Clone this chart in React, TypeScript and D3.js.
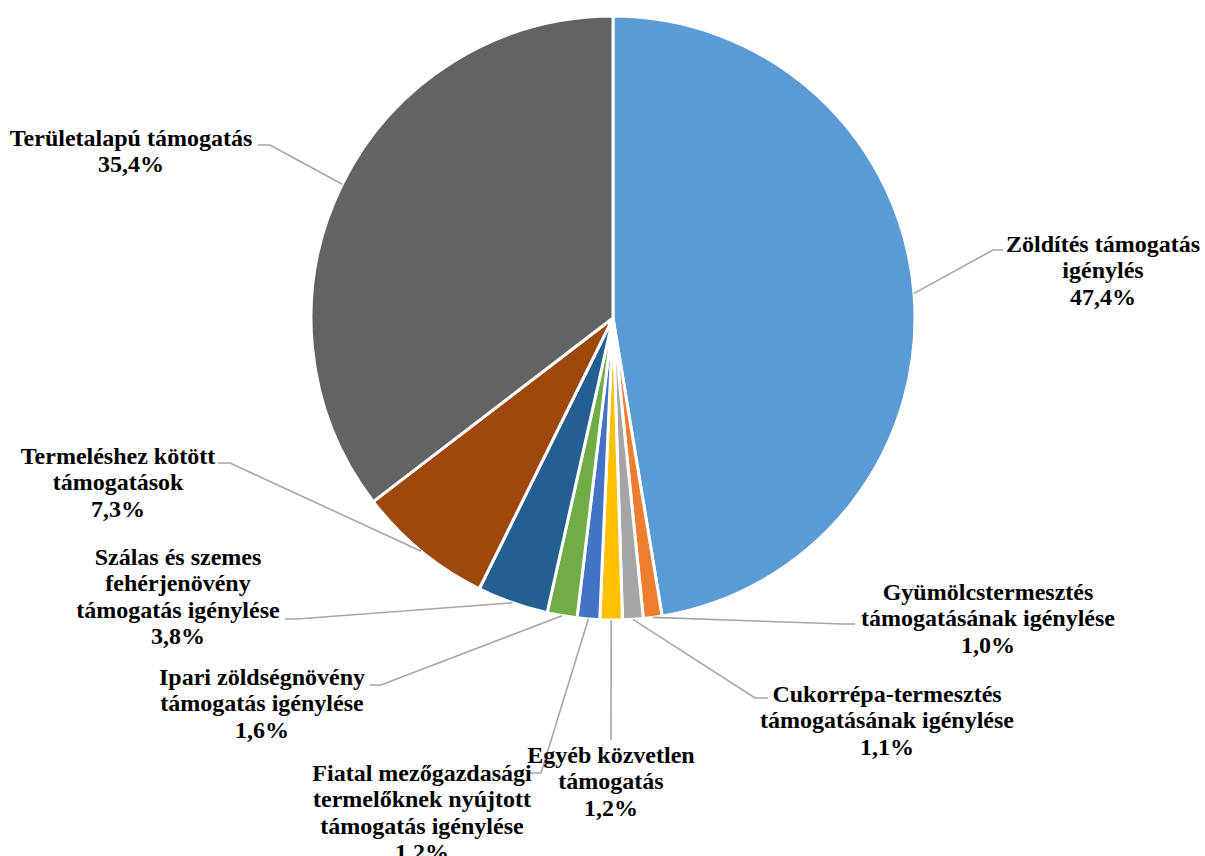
import React from "react";
import * as d3 from "d3";

const categories = [
  "Zöldítés támogatás igénylés",
  "Gyümölcstermesztés támogatásának igénylése",
  "Cukorrépa-termesztés támogatásának igénylése",
  "Egyéb közvetlen támogatás",
  "Fiatal mezőgazdasági termelőknek nyújtott támogatás igénylése",
  "Ipari zöldségnövény támogatás igénylése",
  "Szálas és szemes fehérjenövény támogatás igénylése",
  "Termeléshez kötött támogatások",
  "Területalapú támogatás",
];
const values = [47.4, 1.0, 1.1, 1.2, 1.2, 1.6, 3.8, 7.3, 35.4];
const valueLabels = ["47,4%", "1,0%", "1,1%", "1,2%", "1,2%", "1,6%", "3,8%", "7,3%", "35,4%"];
const labelLines = [
  ["Zöldítés támogatás", "igénylés"],
  ["Gyümölcstermesztés", "támogatásának igénylése"],
  ["Cukorrépa-termesztés", "támogatásának igénylése"],
  ["Egyéb közvetlen", "támogatás"],
  ["Fiatal mezőgazdasági", "termelőknek nyújtott", "támogatás igénylése"],
  ["Ipari zöldségnövény", "támogatás igénylése"],
  ["Szálas és szemes", "fehérjenövény", "támogatás igénylése"],
  ["Termeléshez kötött", "támogatások"],
  ["Területalapú támogatás"],
];
const colors = ["#5B9BD5", "#ED7D31", "#A5A5A5", "#FFC000", "#4472C4", "#70AD47", "#255E91", "#9E480E", "#636363"];

// layout: label text centre x, first line centre y, leader stub (sx -> ex at y)
const layout = [
  { cx: 1103, y0: 244, s: [1003, 993, 250] },
  { cx: 988, y0: 592, s: [855, 843, 624] },
  { cx: 887, y0: 694, s: [768, 755, 698] },
  { cx: 611, y0: 755, s: [611, 611, 740] },
  { cx: 422, y0: 773, s: [530, 541, 773] },
  { cx: 262, y0: 677, s: [370, 381, 685] },
  { cx: 178, y0: 557, s: [285, 297, 619] },
  { cx: 118, y0: 456, s: [218, 230, 463] },
  { cx: 131, y0: 138, s: [258, 270, 145] },
];

const W = 1205, H = 856;
const CX = 613, CY = 318, R = 302;
const LH = 26.5;
const FS = 24;

export default function App() {
  const pie = d3.pie<number>().sort(null).value((d) => d).startAngle(0).endAngle(2 * Math.PI);
  const arcs = pie(values);
  const arc = d3.arc<d3.PieArcDatum<number>>().innerRadius(0).outerRadius(R);
  const edge = d3.arc<d3.PieArcDatum<number>>().innerRadius(R).outerRadius(R);

  return (
    <svg width={W} height={H} style={{ position: "absolute", left: 0, top: 0, background: "#fff" }}>
      <g transform={`translate(${CX},${CY})`}>
        {arcs.map((a, i) => (
          <path key={i} d={arc(a) || ""} fill={colors[i]} stroke="#fff" strokeWidth={3} strokeLinejoin="round" />
        ))}
      </g>
      {arcs.map((a, i) => {
        const [px, py] = edge.centroid(a);
        const L = layout[i];
        const pts = [[L.s[0], L.s[2]], [L.s[1], L.s[2]], [px + CX, py + CY]];
        return (
          <polyline key={i} points={pts.map((p) => p.join(",")).join(" ")} fill="none" stroke="#A6A6A6" strokeWidth={1.6} />
        );
      })}
      {categories.map((c, i) => {
        const L = layout[i];
        const lines = [...labelLines[i], valueLabels[i]];
        return (
          <text key={c} textAnchor="middle" fontWeight="bold" fontSize={FS} fill="#000"
            style={{ fontFamily: "Liberation Serif" }}>
            {lines.map((t, j) => (
              <tspan key={j} x={L.cx} y={L.y0 + j * LH + FS * 0.33}>{t}</tspan>
            ))}
          </text>
        );
      })}
    </svg>
  );
}
